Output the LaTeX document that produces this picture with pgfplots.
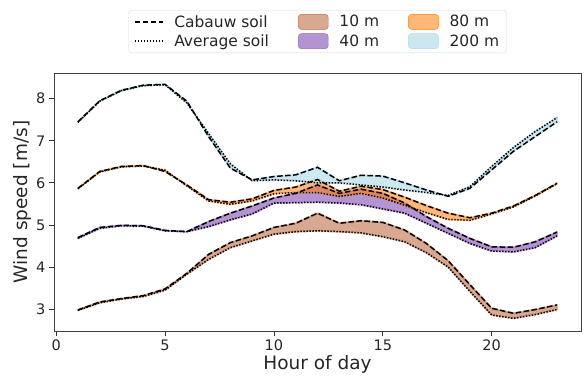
\documentclass[border=0pt]{standalone}
\usepackage{pgfplots}
\pgfplotsset{compat=1.18}
\usepackage{pgfplotstable}
\usepgfplotslibrary{fillbetween}
\usepackage{fontspec}
\setmainfont{DejaVu Sans}

\definecolor{c10}{RGB}{190,110,70}
\definecolor{c40}{RGB}{148,103,189}
\definecolor{c80}{RGB}{255,127,14}
\definecolor{c200}{RGB}{173,216,230}

\pgfplotstableread{
h  c10  a10  c40  a40  c80  a80  c200 a200
1  2.98 2.97 4.70 4.68 5.87 5.86 7.45 7.44
2  3.17 3.15 4.94 4.92 6.27 6.26 7.95 7.94
3  3.25 3.24 4.99 4.98 6.39 6.38 8.20 8.19
4  3.32 3.30 4.98 4.97 6.41 6.40 8.32 8.31
5  3.48 3.45 4.87 4.86 6.27 6.30 8.34 8.33
6  3.85 3.83 4.84 4.84 5.95 5.93 7.94 7.90
7  4.30 4.18 5.08 4.96 5.60 5.57 7.10 7.17
8  4.58 4.46 5.28 5.12 5.54 5.49 6.35 6.45
9  4.74 4.62 5.45 5.26 5.62 5.57 6.07 6.05
10 4.94 4.78 5.64 5.52 5.82 5.74 6.15 6.07
11 5.04 4.84 5.75 5.53 5.90 5.77 6.19 6.05
12 5.28 4.86 5.95 5.54 6.08 5.77 6.37 6.00
13 5.04 4.84 5.75 5.52 5.80 5.68 6.05 6.00
14 5.10 4.81 5.85 5.48 5.92 5.75 6.18 5.95
15 5.06 4.72 5.75 5.38 5.84 5.64 6.16 5.90
16 4.88 4.60 5.52 5.28 5.66 5.47 6.00 5.83
17 4.56 4.34 5.20 5.04 5.46 5.29 5.83 5.77
18 4.15 4.00 4.92 4.80 5.28 5.13 5.68 5.70
19 3.58 3.42 4.68 4.56 5.17 5.11 5.87 5.91
20 3.02 2.86 4.48 4.38 5.28 5.26 6.31 6.39
21 2.90 2.78 4.47 4.36 5.45 5.43 6.75 6.84
22 2.99 2.87 4.60 4.46 5.70 5.69 7.10 7.22
23 3.10 2.99 4.83 4.74 5.99 5.98 7.45 7.55
}\data

\tikzset{
  cabdash/.style={black, line width=1.5pt, dash pattern=on 5.5pt off 2.5pt},
  avgdot/.style={black, line width=1.5pt, dash pattern=on 1.4pt off 1.6pt},
}

\begin{document}
\begin{tikzpicture}
\begin{axis}[
  name=ax,
  scale only axis,
  width=527pt, height=258pt,
  xmin=-0.1, xmax=24.1,
  ymin=2.48, ymax=8.61,
  xtick={0,5,10,15,20},
  ytick={3,4,5,6,7,8},
  tick pos=left,
  tick align=outside,
  major tick length=5pt,
  every tick/.style={black!80, line width=0.8pt},
  axis line style={black!75, line width=0.8pt},
  /pgf/number format/assume math mode=true,
  tick label style={font=\fontsize{14.5}{16}\selectfont, text=black!85},
  xlabel={Hour of day},
  ylabel={Wind speed [m/s]},
  label style={font=\fontsize{18.5}{21}\selectfont, text=black!85},
  xlabel style={yshift=2pt},
  ylabel style={yshift=-2pt},
  legend columns=3,
  legend cell align=left,
  legend style={
    at={(0.5,1.0775)}, anchor=south,
    draw=black!15, rounded corners=3pt,
    font=\fontsize{15.5}{18}\selectfont,
    text=black!85,
    inner xsep=5pt, inner ysep=3pt,
    /tikz/every even column/.append style={column sep=27pt},
    /tikz/every odd column/.append style={column sep=9pt},
    row sep=2pt,
  },
]
% legend images (column-wise order as in reference)
\addlegendimage{legend image code/.code={\draw[cabdash] (0pt,0pt) -- (28pt,0pt);}}
\addlegendentry{Cabauw soil}
\addlegendimage{legend image code/.code={\fill[c10, fill opacity=0.6] (0pt,-7.5pt) rectangle (30pt,7.5pt);}}
\addlegendentry{10 m}
\addlegendimage{legend image code/.code={\fill[c80, fill opacity=0.55] (0pt,-7.5pt) rectangle (30pt,7.5pt);}}
\addlegendentry{80 m}
\addlegendimage{legend image code/.code={\draw[avgdot] (0pt,0pt) -- (28pt,0pt);}}
\addlegendentry{Average soil}
\addlegendimage{legend image code/.code={\fill[c40, fill opacity=0.7] (0pt,-7.5pt) rectangle (30pt,7.5pt);}}
\addlegendentry{40 m}
\addlegendimage{legend image code/.code={\fill[c200, fill opacity=0.6] (0pt,-7.5pt) rectangle (30pt,7.5pt);}}
\addlegendentry{200 m}

% named paths
\addplot[draw=none, name path=C10, forget plot] table[x=h,y=c10]{\data};
\addplot[draw=none, name path=A10, forget plot] table[x=h,y=a10]{\data};
\addplot[draw=none, name path=C40, forget plot] table[x=h,y=c40]{\data};
\addplot[draw=none, name path=A40, forget plot] table[x=h,y=a40]{\data};
\addplot[draw=none, name path=C80, forget plot] table[x=h,y=c80]{\data};
\addplot[draw=none, name path=A80, forget plot] table[x=h,y=a80]{\data};
\addplot[draw=none, name path=C200, forget plot] table[x=h,y=c200]{\data};
\addplot[draw=none, name path=A200, forget plot] table[x=h,y=a200]{\data};

% bands (with soft coloured edges, as in the reference)
\addplot[fill=c10, fill opacity=0.6, draw=c10, draw opacity=0.45, line width=2pt, line join=round, forget plot] fill between[of=C10 and A10];
\addplot[fill=c40, fill opacity=0.7, draw=c40, draw opacity=0.5, line width=2pt, line join=round, forget plot] fill between[of=C40 and A40];
\addplot[fill=c80, fill opacity=0.55, draw=c80, draw opacity=0.45, line width=2pt, line join=round, forget plot] fill between[of=C80 and A80];
\addplot[fill=c200, fill opacity=0.6, draw=c200, draw opacity=0.6, line width=2pt, line join=round, forget plot] fill between[of=C200 and A200];

% lines
\addplot[cabdash, forget plot] table[x=h,y=c10]{\data};
\addplot[avgdot, forget plot] table[x=h,y=a10]{\data};
\addplot[cabdash, forget plot] table[x=h,y=c40]{\data};
\addplot[avgdot, forget plot] table[x=h,y=a40]{\data};
\addplot[cabdash, forget plot] table[x=h,y=c80]{\data};
\addplot[avgdot, forget plot] table[x=h,y=a80]{\data};
\addplot[cabdash, forget plot] table[x=h,y=c200]{\data};
\addplot[avgdot, forget plot] table[x=h,y=a200]{\data};
\end{axis}
\pgfresetboundingbox
\path[use as bounding box] ([shift={(-54pt,-47pt)}]ax.south west) rectangle ([shift={(3pt,73pt)}]ax.north east);
\end{tikzpicture}
\end{document}
